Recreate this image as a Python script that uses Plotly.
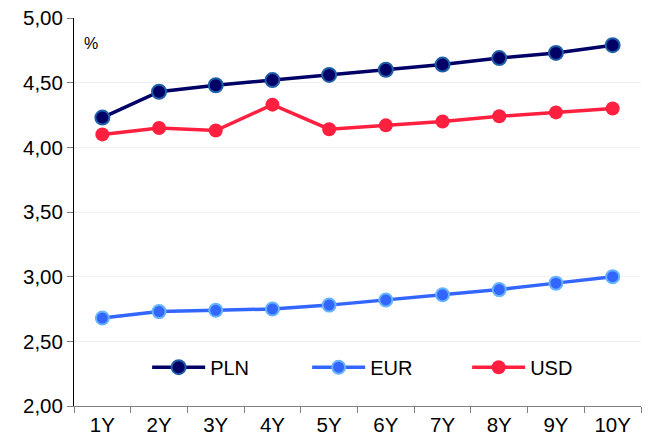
import plotly.graph_objects as go

categories = ["1Y", "2Y", "3Y", "4Y", "5Y", "6Y", "7Y", "8Y", "9Y", "10Y"]
pln = [4.23, 4.43, 4.48, 4.52, 4.56, 4.60, 4.64, 4.69, 4.73, 4.79]
eur = [2.68, 2.73, 2.74, 2.75, 2.78, 2.82, 2.86, 2.90, 2.95, 3.00]
usd = [4.10, 4.15, 4.13, 4.33, 4.14, 4.17, 4.20, 4.24, 4.27, 4.30]
y_ticks = [2.0, 2.5, 3.0, 3.5, 4.0, 4.5, 5.0]
y_tick_labels = ["2,00", "2,50", "3,00", "3,50", "4,00", "4,50", "5,00"]

font_family = "Liberation Sans, Arial, sans-serif"

fig = go.Figure()
fig.add_trace(go.Scatter(
    x=categories, y=pln, name="PLN", mode="lines+markers",
    line=dict(color="#000066", width=3.5),
    marker=dict(size=14, color="#000066", line=dict(color="#1F5FA8", width=2)),
))
fig.add_trace(go.Scatter(
    x=categories, y=eur, name="EUR", mode="lines+markers",
    line=dict(color="#3366FF", width=3.5),
    marker=dict(size=13, color="#3366FF", line=dict(color="#66B3FF", width=2)),
))
fig.add_trace(go.Scatter(
    x=categories, y=usd, name="USD", mode="lines+markers",
    line=dict(color="#FF1F3F", width=3.5),
    marker=dict(size=14, color="#FF1F3F", line=dict(color="#FF1F3F", width=0)),
))

fig.update_layout(
    width=648, height=445,
    margin=dict(l=74, r=7, t=18, b=39),
    paper_bgcolor="white", plot_bgcolor="white",
    font=dict(family=font_family, size=20.5, color="#000000"),
    showlegend=True,
    legend=dict(
        orientation="h", x=0.129, xanchor="left", y=0.1, yanchor="middle",
        font=dict(size=20), itemwidth=53, entrywidth=92, entrywidthmode="pixels",
        bgcolor="rgba(0,0,0,0)", itemclick=False,
    ),
    annotations=[dict(
        text="%", xref="paper", yref="paper", x=0.014, y=0.933,
        xanchor="left", yanchor="middle", showarrow=False,
        font=dict(size=16, family=font_family),
    )],
)
fig.update_xaxes(
    type="category", range=[-0.5, len(categories) - 0.5],
    showline=True, linecolor="#808080", linewidth=1,
    ticks="outside", tickson="boundaries", ticklen=6, tickcolor="#808080",
    showgrid=False, zeroline=False, automargin=False,
)
fig.update_yaxes(
    range=[2.0, 5.0], tickvals=y_ticks, ticktext=y_tick_labels,
    showline=True, linecolor="#000000", linewidth=1,
    ticks="outside", ticklen=6, tickcolor="#808080",
    ticklabeloverflow="allow", automargin=False,
    showgrid=True, gridcolor="#F2F2F2", gridwidth=1, zeroline=False,
)

fig.write_html(
    "out.html",
    config={"displayModeBar": False},
    post_script="document.body.style.margin='0';",
)
